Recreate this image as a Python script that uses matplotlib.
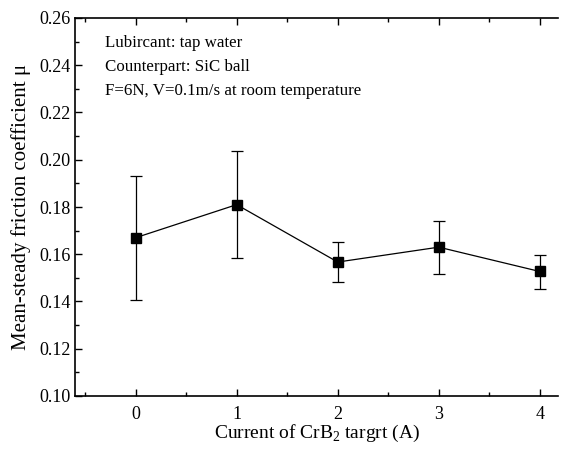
import numpy as np
import matplotlib
matplotlib.use("Agg")
import matplotlib.pyplot as plt
from matplotlib.ticker import MultipleLocator, FormatStrFormatter

current = [0, 1, 2, 3, 4]
mu_mean = [0.167, 0.181, 0.1567, 0.163, 0.1527]
mu_low = [0.1405, 0.1585, 0.1483, 0.1518, 0.1455]
mu_high = [0.1932, 0.2035, 0.1652, 0.1741, 0.1597]

notes = ["Lubircant: tap water",
         "Counterpart: SiC ball",
         "F=6N, V=0.1m/s at room temperature"]

plt.rcParams["font.family"] = ["Liberation Serif", "DejaVu Serif"]
plt.rcParams["mathtext.fontset"] = "custom"
plt.rcParams["mathtext.rm"] = "Liberation Serif"

mean = np.array(mu_mean)
yerr = [mean - np.array(mu_low), np.array(mu_high) - mean]

fig = plt.figure(figsize=(5.84, 4.51), dpi=100)
ax = fig.add_axes([75 / 584, 55 / 451, 483 / 584, 378 / 451])

ax.errorbar(current, mean, yerr=yerr, color="black", linewidth=0.9,
            marker="s", markersize=7, elinewidth=0.9, capsize=4, capthick=0.9)

ax.set_xlim(-0.6, 4.18)
ax.set_ylim(0.10, 0.26)
ax.xaxis.set_major_locator(MultipleLocator(1))
ax.xaxis.set_minor_locator(MultipleLocator(0.5))
ax.yaxis.set_major_locator(MultipleLocator(0.02))
ax.yaxis.set_minor_locator(MultipleLocator(0.01))
ax.yaxis.set_major_formatter(FormatStrFormatter("%.2f"))

ax.spines["right"].set_visible(False)
for s in ["left", "bottom", "top"]:
    ax.spines[s].set_linewidth(1.2)
ax.tick_params(which="both", direction="in", top=True, right=False,
               labelsize=13, width=1)
ax.tick_params(which="major", length=5)
ax.tick_params(which="minor", length=3)
ax.tick_params(axis="x", which="both", top=True, labeltop=False)
ax.tick_params(axis="x", which="major", pad=7)
ax.tick_params(axis="y", which="major", pad=3)

ax.set_xlabel(r"Current of CrB$_\mathrm{2}$ targrt (A)", fontsize=14, labelpad=0)
ax.set_ylabel("Mean-steady friction coefficient μ", fontsize=15, labelpad=6)

for i, line in enumerate(notes):
    ax.text(0.062, 0.935 - i * 0.064, line, transform=ax.transAxes,
            fontsize=12.2, va="center", ha="left")

fig.savefig("out.png", dpi=100)
